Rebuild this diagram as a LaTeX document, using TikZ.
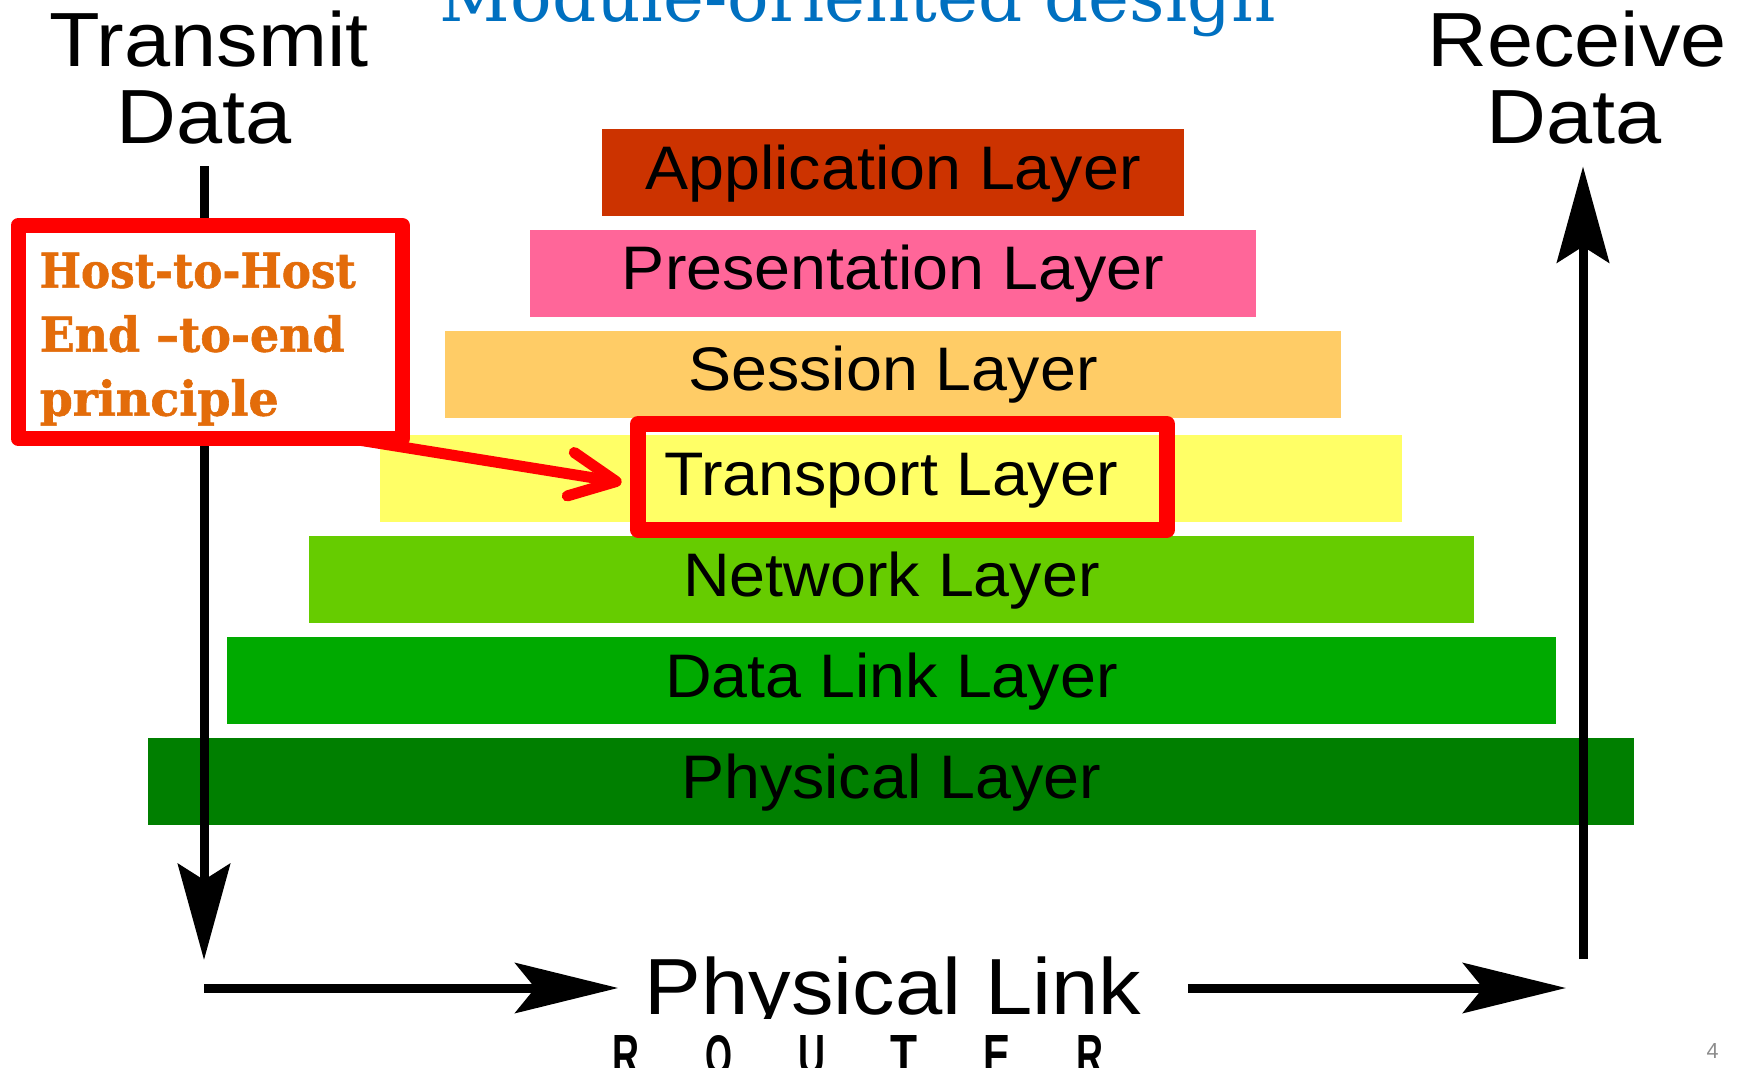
\documentclass[tikz,border=0pt]{standalone}
\usepackage{fontspec}
\setmainfont{Liberation Sans}
\newfontfamily\orfont{DejaVu Serif}[BoldFeatures={FakeBold=1.2}]
\newfontfamily\titfont{DejaVu Serif}
\usetikzlibrary{arrows.meta,calc}
\newdimen\pxu \pxu=0.1mm
\definecolor{appc}{HTML}{CC3300}
\definecolor{presc}{HTML}{FF6699}
\definecolor{sessc}{HTML}{FFCC66}
\definecolor{transc}{HTML}{FFFF66}
\definecolor{netc}{HTML}{66CC00}
\definecolor{dlc}{HTML}{00AA00}
\definecolor{physc}{HTML}{007F00}
\definecolor{ortxt}{HTML}{E36C0A}
\definecolor{titblue}{HTML}{0070C0}
\definecolor{pagegray}{HTML}{8C8C8C}
\newcommand\layfont{\fontsize{17.5}{21}\selectfont}
\newcommand\laytxt[1]{\scalebox{1.05}[1]{#1}}
\newcommand\bigtxt[1]{\scalebox{1.08}[1]{#1}}
\newcommand\routl[1]{\resizebox{27\pxu}{40\pxu}{\bfseries #1}}
\newcommand\orline[2]{\resizebox{#1\pxu}{\height}{#2}}
\begin{document}
\begin{tikzpicture}[x=0.1mm,y=-0.1mm,
  layer/.style={minimum height=8.7mm, inner sep=0pt, text height=4.6mm, text depth=1.3mm, font=\layfont},
  big/.style={inner sep=0pt, anchor=base, font=\fontsize{21.85}{26}\selectfont},
  blk/.style={line width=0.9mm, -{Stealth[length=9.6mm,width=5.2mm,inset=1.6mm]}},
  blkh/.style={line width=0.9mm, -{Stealth[length=10.3mm,width=5mm,inset=2mm]}},
  redbox/.style={draw=red, line width=1.6mm, line join=round, inner sep=0pt},
  callbox/.style={draw=red, fill=white, line width=1.5mm, line join=round, inner sep=0pt},
  redarr/.style={draw=red, line width=1.1mm, line cap=round, -{Straight Barb[length=4.6mm,width=4.4mm,round]}}
]
\useasboundingbox (0,0) rectangle (1748,1068);
\clip (0,0) rectangle (1748,1068);

% title
\node[anchor=base, inner sep=0pt, text=titblue] (title) at (858,22)
  {\resizebox{836\pxu}{\height}{\titfont\fontsize{19.7}{24}\selectfont Module-oriented design}};

% side labels
\node[big] (tx1) at (209,67) {\bigtxt{Transmit}};
\node[big] (tx2) at (204,144) {\bigtxt{Data}};
\node[big] (rx1) at (1577,67) {\bigtxt{Receive}};
\node[big] (rx2) at (1574,144) {\bigtxt{Data}};

% layers
\node[layer, fill=appc,   minimum width=58.2mm]  (app)   at (893,172.6)  {\laytxt{Application Layer}};
\node[layer, fill=presc,  minimum width=72.6mm]  (pres)  at (893,273.4)  {\laytxt{Presentation Layer}};
\node[layer, fill=sessc,  minimum width=89.6mm]  (sess)  at (893,374.4)  {\laytxt{Session Layer}};
\node[layer, fill=transc, minimum width=102.2mm] (trans) at (891,478.8)  {\laytxt{Transport Layer}};
\node[layer, fill=netc,   minimum width=116.5mm] (net)   at (891.5,580)  {\laytxt{Network Layer}};
\node[layer, fill=dlc,    minimum width=132.9mm] (dl)    at (891.5,680.8){\laytxt{Data Link Layer}};
\node[layer, fill=physc,  minimum width=148.6mm] (phys)  at (891,781.8)  {\laytxt{Physical Layer}};

% highlight box around transport layer
\node[redbox, minimum width=52.9mm, minimum height=10.55mm] (tbox) at (902.5,476.8) {};

% coordinates of free arrow ends
\coordinate (ldn) at (204,960);
\coordinate (rup) at (1583,959);
\coordinate (bl) at (204,988);
\coordinate (br) at (1566,988);

% physical link (clipped at the bottom)
\begin{scope}
\clip (560,900) rectangle (1220,1018);
\node[big, font=\fontsize{22.65}{27}\selectfont] (plink) at (893,1014) {\scalebox{1.068}[1]{Physical Link}};
\end{scope}

% black arrows
\draw[blk] ([yshift=-2.1mm]tx2.south) -- (ldn);
\draw[blk] (rup) -- ($(rup |- rx2.south)+(0,21)$);
\draw[blkh] (bl) -- ($(plink.west |- bl)+(-26,0)$);
\draw[blkh] ($(plink.east |- bl)+(46,0)$) -- (br);

% ROUTER
\node[anchor=north west, inner sep=0pt] (router) at (612,1035)
  {\routl{R}\hspace{65.7\pxu}\routl{O}\hspace{65.7\pxu}\routl{U}\hspace{65.7\pxu}\routl{T}\hspace{65.7\pxu}\routl{E}\hspace{65.7\pxu}\routl{R}};

% page number
\node[anchor=base west, inner sep=0pt, text=pagegray] (pgnum) at (1706,1058) {\resizebox{12\pxu}{15\pxu}{4}};

% callout
\node[callbox, minimum width=38.45mm, minimum height=21.3mm] (callout) at (210.25,332) {};
\node[anchor=north west, inner sep=0pt, align=left, text=ortxt,
      font=\orfont\bfseries\fontsize{13.66}{18.2}\selectfont] (calltxt) at (39,252)
  {\orline{316}{Host-to-Host}\\\orline{305}{End –to-end}\\\orline{239}{principle}};
\draw[redarr] ($(callout.south east)+(-48.5,-5.5)$) -- ($(tbox.west)+(-8.4,5.6)$);
\end{tikzpicture}
\end{document}
